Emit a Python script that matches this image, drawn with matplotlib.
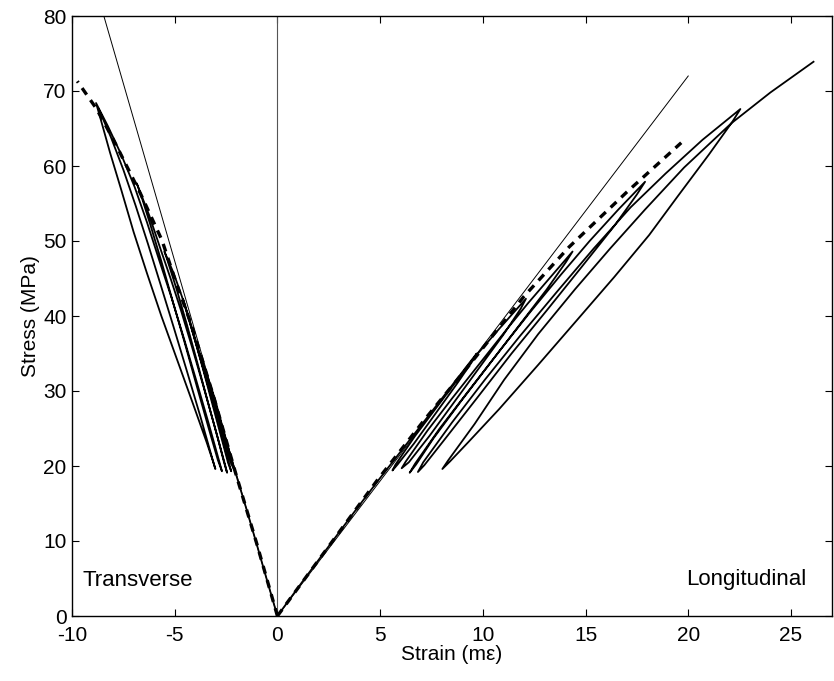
import numpy as np
import matplotlib
matplotlib.use("Agg")
import matplotlib.pyplot as plt

plt.rcParams['font.family'] = ['Liberation Sans', 'DejaVu Sans']
plt.rcParams['axes.unicode_minus'] = False

# dashed reference curves (strain in m-epsilon, stress in MPa)
dash_T_strain = [0, -1.0, -2.05, -3.1, -4.16, -5.0, -5.62, -6.68, -7.98, -8.8, -9.74]
dash_T_stress = [0, 9.6, 19.2, 29.2, 38.6, 45.0, 50.1, 56.4, 63.5, 67.6, 71.3]
dash_L_strain = [0, 2.5, 4.86, 7.2, 9.41, 12.0, 14.2, 17.0, 19.66]
dash_L_stress = [0, 9.3, 18.1, 26.3, 33.7, 42.6, 49.2, 56.5, 63.1]

# thin initial-modulus lines
thin_T_strain = [0, -8.45]
thin_T_stress = [0, 80]
thin_L_strain = [0, 20.0]
thin_L_stress = [0, 72.0]

# cyclic test, longitudinal gauge (load, unload to ~20 MPa, reload higher ...)
long_strain = [0, 1.25, 2.5, 3.75, 5.0, 6.25, 7.5, 8.6, 9.7,
               9.5, 8.75, 7.7, 6.65, 5.85, 5.6,
               5.75, 6.7, 7.8, 8.9, 9.6, 10.8, 12.1,
               11.85, 11.0, 9.8, 8.6, 7.4, 6.4, 6.05,
               6.25, 7.3, 8.5, 9.8, 11.1, 12.2, 13.3, 14.37,
               14.05, 13.1, 11.7, 10.3, 8.9, 7.6, 6.75, 6.44,
               6.7, 7.9, 9.3, 10.8, 12.3, 13.8, 15.2, 16.6, 17.9,
               17.5, 16.4, 14.8, 13.1, 11.4, 9.7, 8.1, 7.15, 6.84,
               7.1, 8.5, 10.1, 11.8, 13.6, 15.4, 17.2, 18.9, 20.7, 22.54,
               22.15, 21.0, 19.5, 18.1, 16.4, 14.6, 12.7, 10.8, 9.3, 8.4, 8.03,
               8.3, 9.6, 11.04, 12.7, 14.5, 16.2, 17.9, 19.8, 22.1, 24.0, 26.1]
long_stress = [0, 4.7, 9.3, 13.9, 18.4, 22.8, 27.2, 31.1, 35.0,
               34.0, 31.0, 27.0, 23.0, 20.2, 19.4,
               20.2, 24.0, 28.0, 32.0, 34.5, 38.3, 42.3,
               41.0, 37.5, 33.0, 28.5, 24.0, 20.5, 19.7,
               20.6, 24.7, 29.0, 33.5, 38.0, 41.7, 45.2, 48.6,
               47.2, 43.5, 38.5, 33.5, 28.5, 23.7, 20.2, 19.1,
               20.3, 25.0, 30.0, 35.3, 40.5, 45.5, 50.0, 54.2, 57.9,
               56.2, 52.0, 46.5, 40.7, 35.0, 29.0, 23.4, 20.1, 19.2,
               20.5, 25.8, 31.5, 37.3, 43.2, 49.0, 54.5, 59.0, 63.5, 67.6,
               65.9, 61.5, 56.0, 50.8, 45.2, 39.5, 33.5, 27.6, 23.2, 20.6, 19.6,
               20.7, 25.6, 31.5, 37.6, 43.6, 49.0, 54.2, 59.8, 65.7, 69.8, 73.9]

# cyclic test, transverse gauge
trans_strain = [0, -0.5, -1.0, -1.5, -2.05, -2.6, -3.1, -3.45, -3.8,
                -3.7, -3.4, -3.0, -2.6, -2.25, -2.1,
                -2.18, -2.6, -3.05, -3.5, -3.85, -4.2, -4.6,
                -4.48, -4.1, -3.65, -3.2, -2.75, -2.4, -2.25,
                -2.35, -2.8, -3.3, -3.8, -4.25, -4.65, -5.05, -5.5,
                -5.35, -4.9, -4.4, -3.9, -3.4, -2.9, -2.6, -2.45,
                -2.55, -3.05, -3.6, -4.15, -4.7, -5.2, -5.65, -6.25, -6.85,
                -6.65, -6.2, -5.65, -5.1, -4.5, -3.9, -3.3, -2.9, -2.7,
                -2.8, -3.35, -3.95, -4.55, -5.15, -5.75, -6.35, -6.95, -7.6, -8.25, -8.83,
                -8.6, -8.15, -7.6, -7.0, -6.35, -5.65, -4.9, -4.15, -3.45, -3.12, -3.02,
                -3.15, -3.75, -4.4, -5.05, -5.7, -6.3, -6.9, -7.5, -8.1, -8.7]
trans_stress = [0, 4.7, 9.5, 14.2, 19.2, 24.3, 29.2, 32.2, 35.0,
                34.0, 31.2, 27.4, 23.5, 20.3, 19.5,
                20.3, 24.5, 29.0, 32.8, 35.6, 38.8, 42.3,
                41.2, 37.6, 33.2, 28.6, 24.0, 20.4, 19.3,
                20.3, 25.0, 30.0, 34.8, 39.0, 42.6, 45.7, 48.6,
                47.4, 43.5, 38.8, 33.8, 28.7, 23.7, 20.5, 19.1,
                20.2, 25.2, 30.6, 35.8, 40.8, 45.0, 48.6, 53.5, 57.7,
                56.2, 52.3, 47.3, 42.0, 36.3, 30.4, 24.6, 20.8, 19.3,
                20.3, 25.7, 31.4, 37.0, 42.4, 47.4, 52.5, 57.2, 61.5, 65.3, 68.4,
                66.2, 61.8, 56.8, 51.2, 45.7, 40.0, 34.3, 28.6, 23.2, 20.5, 19.6,
                20.8, 26.6, 32.6, 38.5, 44.3, 49.6, 54.7, 59.5, 63.8, 67.6]

fig = plt.figure(figsize=(8.34, 6.81), dpi=100)
ax = fig.add_axes([72/834, 1 - 616/681, 760/834, 600/681])

ax.axvline(0, color='#555555', lw=0.8)
ax.plot(thin_T_strain, thin_T_stress, color='k', lw=0.7)
ax.plot(thin_L_strain, thin_L_stress, color='k', lw=0.7)
ax.plot(long_strain, long_stress, color='k', lw=1.3)
ax.plot(trans_strain, trans_stress, color='k', lw=1.3)
ax.plot(dash_T_strain, dash_T_stress, color='k', lw=2.4, dashes=(2.4, 2.0))
ax.plot(dash_L_strain, dash_L_stress, color='k', lw=2.4, dashes=(2.4, 2.0))

ax.text(-9.5, 4.8, 'Transverse', fontsize=16, va='center', ha='left')
ax.text(25.75, 4.8, 'Longitudinal', fontsize=16, va='center', ha='right')

ax.set_xlim(-10, 27)
ax.set_ylim(0, 80)
ax.set_xticks(np.arange(-10, 26, 5))
ax.set_yticks(np.arange(0, 81, 10))
ax.tick_params(direction='in', top=True, right=True, length=5, labelsize=15)
ax.tick_params(axis='x', pad=7)
ax.tick_params(axis='y', pad=4)
for s in ax.spines.values():
    s.set_linewidth(1.0)
ax.set_xlabel('Strain (mε)', fontsize=15, labelpad=0)
ax.set_ylabel('Stress (MPa)', fontsize=15, labelpad=2)

fig.savefig('out.png', dpi=100)
